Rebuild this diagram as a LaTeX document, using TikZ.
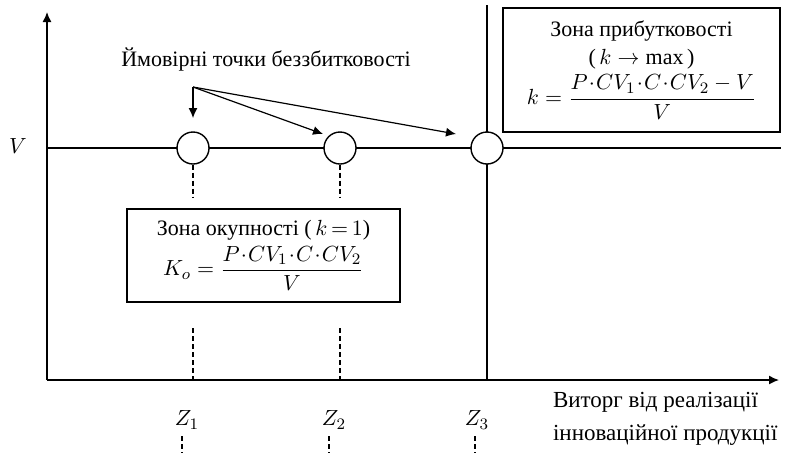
\documentclass[tikz,border=0pt]{standalone}
\usepackage{amsmath}
\usepackage{fontspec}
\setmainfont{Liberation Serif}
\usetikzlibrary{arrows.meta}
\newcommand{\dotm}{\mkern1mu{\cdot}\mkern1mu}

\begin{document}
\begin{tikzpicture}[
  x=0.5pt, y=-0.5pt,
  font=\fontsize{11}{14}\selectfont,
  line/.style={line width=.7pt, draw=black},
  axis/.style={line, -{Latex[length=5pt, width=4.5pt]}},
  pointer/.style={line width=.6pt, -{Latex[length=5pt, width=4.5pt]}},
  guide/.style={line width=.6pt, dashed, dash pattern=on 2.5pt off 1.5pt},
  point/.style={circle, line, fill=white, minimum size=16pt, inner sep=0pt},
  zone/.style={line, fill=white, align=center, inner sep=2pt}
]
\useasboundingbox (0,0) rectangle (791,452);

% Axes and the level V
\coordinate (origin) at (47,380);
\coordinate (ytop) at (47,12);
\coordinate (xend) at (779,380);
\coordinate (vleft) at (47,148);
\coordinate (vright) at (781,148);
\coordinate (ztop) at (487,5);
\coordinate (zbot) at (487,380);
\draw[axis] (origin) -- (ytop);
\draw[axis] (origin) -- (xend);
\draw[line] (vleft) -- (vright);
\draw[line] (ztop) -- (zbot);

\node at (18,146) {$V$};

% Break-even points
\node[point] (p1) at (193,148) {};
\node[point] (p2) at (340,148) {};
\node[point] (p3) at (487,148) {};

% Dashed guides down to the axis
\coordinate (g1a) at (193,197); \coordinate (g1b) at (193,328); \coordinate (g1c) at (193,380);
\coordinate (g2a) at (340,197); \coordinate (g2b) at (340,328); \coordinate (g2c) at (340,380);
\draw[guide] (p1.south) -- (g1a);
\draw[guide] (g1b) -- (g1c);
\draw[guide] (p2.south) -- (g2a);
\draw[guide] (g2b) -- (g2c);

% Labels Z on the axis
\node (z1) at (187,420) {$Z_1$};
\node (z2) at (334,420) {$Z_2$};
\node (z3) at (477,420) {$Z_3$};
\coordinate (e1) at (182,453); \coordinate (e2) at (329,453); \coordinate (e3) at (475,453);
\draw[guide] (z1.south -| e1) -- (e1);
\draw[guide] (z2.south -| e2) -- (e2);
\draw[guide] (z3.south -| e3) -- (e3);

\node[align=left, anchor=west, font=\fontsize{11.5}{16.5}\selectfont] (xlabel) at (546,419)
  {Виторг від реалізації\\інноваційної продукції};

% Pointers to the break-even points
\node (title) at (266,60) {Ймовірні точки беззбитковості};
\coordinate (src) at (193,87);
\coordinate (t1) at (193,118);
\coordinate (t2) at (323,134);
\coordinate (t3) at (456,134);
\draw[pointer] (src) -- (t1);
\draw[pointer] (src) -- (t2);
\draw[pointer] (src) -- (t3);

% Zones
\node[zone, minimum width=136.5pt, minimum height=46.5pt] (payback) at (263.5,255.5)
  {Зона окупності (\,$k\mkern-2mu=\mkern-2mu1$)\\[2pt]
   $K_o=\dfrac{P\dotm CV_1\dotm C\dotm CV_2}{V}$};

\node[zone, minimum width=138.5pt, minimum height=62pt] (profit) at (641.5,70)
  {Зона прибутковості\\
   (\,$k\rightarrow\max$\,)\\[2pt]
   $k=\dfrac{P\dotm CV_1\dotm C\dotm CV_2-V}{V}$};

\end{tikzpicture}
\end{document}
